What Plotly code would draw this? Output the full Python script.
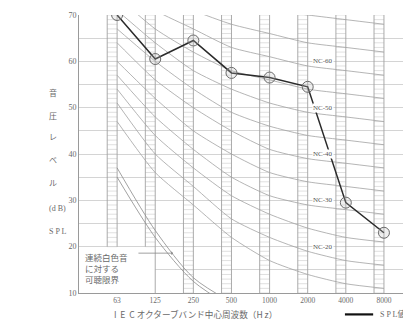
import numpy as np
import plotly.graph_objects as go

# octave band centre frequencies
freq_labels = ["63", "125", "250", "500", "1000", "2000", "4000", "8000"]

# NC curves (dB at each octave band)
nc_names = [15, 20, 25, 30, 35, 40, 45, 50, 55, 60, 65, 70]
nc_values = [
    [47, 36, 29, 22, 17, 14, 12, 11],
    [51, 40, 33, 26, 22, 19, 17, 16],
    [54, 44, 37, 31, 27, 24, 22, 21],
    [57, 48, 41, 35, 31, 29, 28, 27],
    [60, 52, 45, 40, 36, 34, 33, 32],
    [64, 56, 50, 45, 41, 39, 38, 37],
    [67, 60, 54, 49, 46, 44, 43, 42],
    [71, 64, 58, 54, 51, 49, 48, 47],
    [74, 67, 62, 58, 56, 54, 53, 52],
    [77, 71, 67, 63, 61, 59, 58, 57],
    [80, 75, 71, 68, 66, 64, 63, 62],
    [83, 79, 75, 72, 71, 70, 69, 68],
]
nc_labelled = [60, 50, 40, 30, 20]

# audibility threshold for continuous white noise (two lines)
thr_upper = [37, 23.5, 13.3, 8]
thr_lower = [35, 22, 12.5, 7]

# measured SPL
spl = [70, 60.5, 64.5, 57.5, 56.5, 54.5, 29.5, 23]

# y-axis title characters and their heights (dB)
ytitle_chars = ["音", "圧", "レ", "ベ", "ル", "(d B)", "S P L"]
ytitle_pos = [53.2, 48.2, 43.5, 38.7, 33.7, 28.3, 23.2]

SERIF = "Liberation Serif, Noto Sans CJK JP"
CJK = "Noto Sans CJK JP"
GRAY_TXT = "#6a6a6a"
NB = "\u00a0"

x = np.arange(len(freq_labels))
col_w = 0.26
col_bottom = [20, 20, 10, 10, 10, 10, 10, 10]
bottom_row = -0.077  # paper y of the axis title / key row

fig = go.Figure()

# Hatched columns
# ----------------------------
hx, hy, ex, ey = [], [], [], []
for i, b in zip(x, col_bottom):
    for lvl in range(b, 71):
        hx += [i - col_w, i, None]
        hy += [lvl, lvl, None]
    ex += [i - col_w, i - col_w, None, i, i, None]
    ey += [b, 70, None, b, 70, None]
# right edge of 125 band continues down to the axis
ex += [1, 1, None]
ey += [10, 20, None]

fig.add_trace(go.Scatter(x=hx, y=hy, mode="lines", line=dict(color="#d2d2d2", width=0.7),
                         hoverinfo="skip", showlegend=False))
fig.add_trace(go.Scatter(x=ex, y=ey, mode="lines", line=dict(color="#a0a0a0", width=0.9),
                         hoverinfo="skip", showlegend=False))

# NC curves
# ----------------------------
for name, vals in zip(nc_names, nc_values):
    fig.add_trace(go.Scatter(x=x, y=vals, mode="lines",
                             line=dict(color="#a2a2a2", width=0.8, shape="spline", smoothing=0.6),
                             hoverinfo="skip", showlegend=False))

# Threshold curves
for vals in (thr_upper, thr_lower):
    fig.add_trace(go.Scatter(x=x[:len(vals)], y=vals, mode="lines",
                             line=dict(color="#8a8a8a", width=0.8, shape="spline", smoothing=0.8),
                             hoverinfo="skip", showlegend=False))

# SPL
fig.add_trace(go.Scatter(x=x, y=spl, mode="lines+markers", line=dict(color="#2a2a2a", width=1.5),
                         marker=dict(size=11, color="rgba(190,190,190,0.25)", line=dict(color="#6a6a6a", width=1)),
                         showlegend=False))

# Annotations
# ----------------------------
ann = []
for nc in nc_labelled:
    ann.append(dict(x=5.4, y=nc, text=f"NC-{nc}", showarrow=False, bgcolor="white", borderpad=0,
                    font=dict(family=SERIF, size=7, color="#555")))
for ch, yy in zip(ytitle_chars, ytitle_pos):
    ann.append(dict(x=-0.096, xref="paper", y=yy, text=ch, showarrow=False,
                    font=dict(family=SERIF, size=8, color=GRAY_TXT)))
ann.append(dict(x=0.352, xref="paper", y=bottom_row, yref="paper", yanchor="middle",
                text=f"I{NB}{NB}E{NB}{NB}C{NB}オクターブバンド中心周波数（H{NB}z）",
                showarrow=False, font=dict(family=CJK, size=8.6, color=GRAY_TXT)))
ann.append(dict(x=-0.9, y=15.5, xanchor="left", text="連続白色音<br>に対する<br>可聴限界", align="left",
                showarrow=False, font=dict(family=CJK, size=8.5, color=GRAY_TXT)))
ann.append(dict(x=1.47, y=18.6, ax=0.52, ay=18.6, axref="x", ayref="y", text="", showarrow=True,
                arrowhead=1, arrowsize=0.8, arrowwidth=0.8, arrowcolor="#888"))
# legend key for the SPL line
ann.append(dict(x=0.9, xref="paper", y=bottom_row, yref="paper", xanchor="left", yanchor="middle",
                text="S P L値", showarrow=False, font=dict(family=SERIF, size=8, color=GRAY_TXT)))

# Layout
# ----------------------------
# page body adds an 8px offset, so the figure is a little smaller than the window
fig.update_layout(
    width=403,
    height=315,
    margin=dict(l=71, r=0, t=7, b=30, autoexpand=False),
    paper_bgcolor="white",
    plot_bgcolor="white",
    showlegend=False,
    annotations=ann,
    shapes=[
        dict(type="rect", xref="x", yref="y", x0=-1, x1=1, y0=10, y1=19.9, layer="between",
             fillcolor="white", line=dict(width=0)),
        dict(type="line", xref="paper", yref="paper", x0=0.801, x1=0.886, y0=bottom_row, y1=bottom_row,
             line=dict(color="#111", width=2.2)),
    ],
    xaxis=dict(
        range=[-1, 7.71],
        tickvals=list(x),
        ticktext=freq_labels,
        showgrid=False,
        zeroline=False,
        showline=True,
        linecolor="#9a9a9a",
        linewidth=1,
        ticks="",
        tickfont=dict(family=SERIF, size=7.5, color=GRAY_TXT),
    ),
    yaxis=dict(
        range=[10, 70],
        tickvals=list(range(10, 71, 5)),
        ticktext=[str(v) if v % 10 == 0 else "" for v in range(10, 71, 5)],
        showgrid=True,
        gridcolor="#d4d4d4",
        gridwidth=1,
        zeroline=False,
        showline=True,
        linecolor="#9a9a9a",
        linewidth=1,
        ticks="",
        tickfont=dict(family=SERIF, size=8, color=GRAY_TXT),
    ),
)

fig.write_html("out.html")
